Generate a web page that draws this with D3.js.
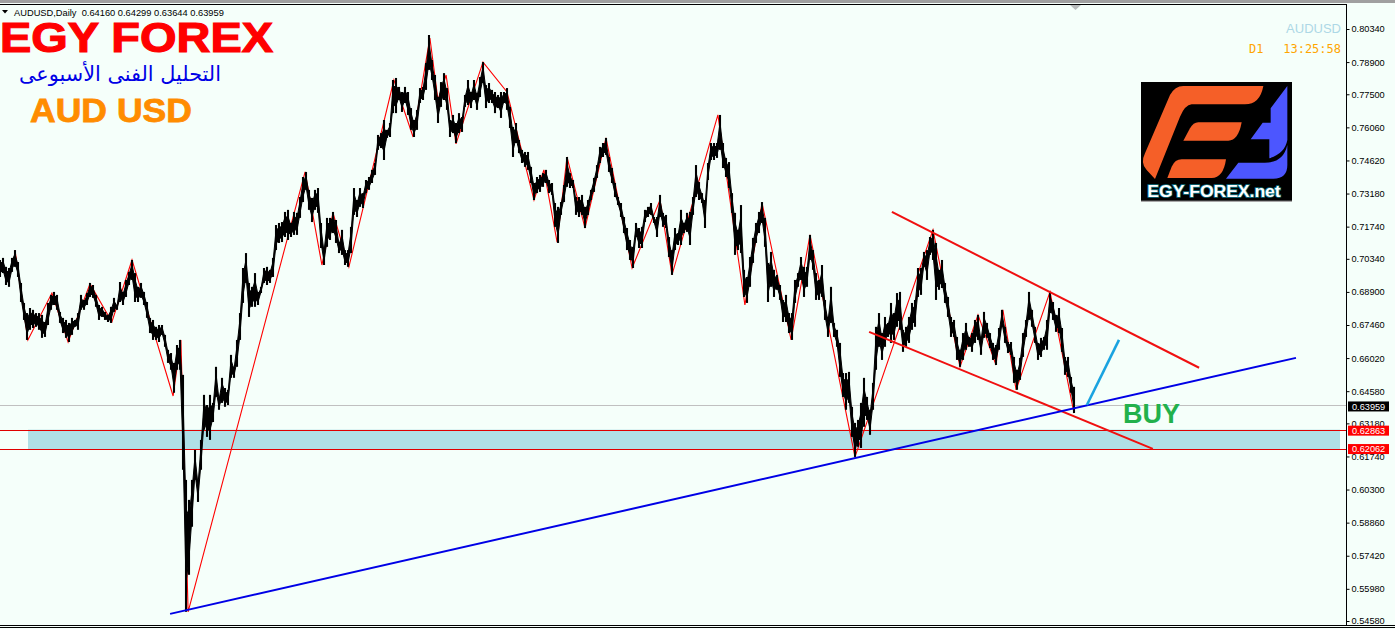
<!DOCTYPE html>
<html><head><meta charset="utf-8">
<script src="https://cdn.jsdelivr.net/npm/d3@7"></script>
<style>html,body{margin:0;padding:0;background:#f5fffa;overflow:hidden}svg{display:block}</style>
</head><body><svg id="c" width="1395" height="629"></svg>
<script>
const symbolLine = "AUDUSD,Daily  0.64160 0.64299 0.63644 0.63959";
const priceTicks = [0.8034,0.789,0.775,0.7606,0.7462,0.7318,0.7174,0.7034,0.689,0.6746,0.6602,0.6458,0.6318,0.6174,0.603,0.5886,0.5742,0.5598,0.5458];
const highs1=[.7029,.7038,.6999,.6994,.7038,.7072,.7020,.6929,.6842,.6798,.6820,.6812,.6798,.6798,.6790,.6759,.6842,.6877,.6890,.6877];
const lows1=[.6955,.6972,.6920,.6912,.6977,.6999,.6955,.6846,.6768,.6681,.6725,.6733,.6738,.6725,.6690,.6694,.6746,.6812,.6833,.6812];
const highs2=[.6803,.6777,.6768,.6755,.6777,.6768,.6798,.6877,.6855,.6885,.6929,.6920,.6877,.6833,.6825,.6803,.6790,.6825,.6864,.6833];
const lows2=[.6755,.6711,.6690,.6672,.6703,.6738,.6725,.6812,.6812,.6833,.6868,.6864,.6825,.6768,.6781,.6768,.6759,.6755,.6803,.6812];
const highs3=[.6933,.6890,.6942,.6977,.7029,.6972,.6912,.6929,.6890,.6846,.6777,.6768,.6738,.6746,.6746,.6703,.6638,.6624,.6581,.6659];
const lows3=[.6846,.6833,.6868,.6920,.6942,.6846,.6846,.6864,.6833,.6777,.6711,.6681,.6681,.6672,.6703,.6651,.6581,.6551,.6451,.6551];
const highs4=[.6681,.6529,.6072,.5985,.6072,.6202,.6072,.6246,.6442,.6398,.6442,.6407,.6564,.6433,.6516,.6472,.6464,.6616,.6564,.6681];
const lows4=[.6551,.6116,.5498,.5659,.5868,.6072,.5976,.6116,.6290,.6259,.6246,.6324,.6433,.6377,.6407,.6390,.6398,.6516,.6516,.6564];
const highs5=[.6798,.6994,.7059,.6929,.6912,.6972,.6890,.6912,.6994,.6999,.6986,.7038,.7181,.7190,.7194,.7238,.7247,.7190,.7238,.7234];
const lows5=[.6681,.6842,.6929,.6781,.6825,.6825,.6833,.6885,.6929,.6920,.6929,.6955,.7072,.7103,.7107,.7129,.7116,.7129,.7138,.7138];
const highs6=[.7303,.7390,.7412,.7334,.7299,.7334,.7342,.7190,.7081,.7212,.7212,.7238,.7203,.7107,.7160,.7072,.7072,.7173,.7342,.7290];
const lows6=[.7212,.7281,.7334,.7247,.7194,.7247,.7234,.7081,.7007,.7086,.7116,.7146,.7103,.7059,.7051,.7007,.6999,.7059,.7225,.7216];
const highs7=[.7342,.7320,.7377,.7390,.7421,.7451,.7573,.7581,.7638,.7595,.7625,.7812,.7821,.7782,.7760,.7782,.7760,.7690,.7638,.7682];
const lows7=[.7260,.7255,.7320,.7334,.7364,.7399,.7508,.7516,.7464,.7560,.7564,.7668,.7668,.7725,.7673,.7712,.7660,.7595,.7564,.7595];
const highs8=[.7777,.7782,.7886,.8008,.7899,.7834,.7738,.7803,.7842,.7777,.7638,.7660,.7625,.7668,.7651,.7747,.7812,.7760,.7812,.7756];
const lows8=[.7712,.7725,.7769,.7856,.7812,.7725,.7625,.7695,.7725,.7682,.7564,.7581,.7538,.7581,.7586,.7695,.7703,.7690,.7725,.7682];
const highs9=[.7825,.7890,.7790,.7799,.7769,.7760,.7747,.7760,.7760,.7777,.7695,.7608,.7625,.7551,.7508,.7499,.7499,.7434,.7364,.7390];
const lows9=[.7738,.7799,.7690,.7712,.7712,.7668,.7690,.7647,.7712,.7682,.7603,.7477,.7538,.7494,.7451,.7434,.7421,.7364,.7290,.7320];
const highs10=[.7399,.7407,.7421,.7377,.7364,.7277,.7260,.7281,.7355,.7477,.7407,.7377,.7303,.7303,.7312,.7260,.7290,.7334,.7386,.7442];
const lows10=[.7325,.7347,.7364,.7320,.7312,.7173,.7103,.7225,.7281,.7347,.7342,.7342,.7225,.7216,.7225,.7168,.7225,.7290,.7325,.7386];
const highs11=[.7521,.7538,.7560,.7477,.7429,.7364,.7303,.7277,.7216,.7168,.7116,.7086,.7190,.7168,.7173,.7247,.7260,.7277,.7216,.7216];
const lows11=[.7451,.7477,.7486,.7412,.7364,.7303,.7268,.7216,.7146,.7072,.7029,.6994,.7129,.7081,.7081,.7194,.7216,.7225,.7190,.7129];
const highs12=[.7312,.7234,.7225,.7129,.7072,.7168,.7146,.7247,.7190,.7234,.7238,.7303,.7442,.7368,.7320,.7290,.7451,.7538,.7538,.7538];
const lows12=[.7216,.7173,.7168,.7042,.6964,.7072,.7094,.7094,.7146,.7151,.7094,.7225,.7303,.7290,.7277,.7168,.7377,.7464,.7464,.7473];
const highs13=[.7660,.7538,.7473,.7455,.7320,.7234,.7160,.7268,.6986,.6955,.7042,.7125,.7190,.7238,.7281,.7212,.7016,.7064,.6986,.6964];
const lows13=[.7508,.7429,.7390,.7342,.7234,.7051,.7072,.7059,.6868,.6842,.6912,.7016,.7103,.7146,.7190,.7086,.6846,.6912,.6868,.6899];
const highs14=[.6920,.6855,.6877,.6798,.6798,.6942,.6972,.7042,.6999,.6999,.7138,.7072,.6972,.6942,.7007,.6855,.6781,.6912,.6755,.6725];
const lows14=[.6855,.6759,.6759,.6711,.6681,.6842,.6912,.6942,.6868,.6912,.7029,.6986,.6855,.6855,.6868,.6768,.6694,.6755,.6694,.6651];
const highs15=[.6668,.6537,.6537,.6542,.6390,.6320,.6333,.6407,.6516,.6433,.6377,.6494,.6738,.6798,.6711,.6781,.6755,.6842,.6798,.6885];
const lows15=[.6520,.6433,.6377,.6407,.6259,.6172,.6216,.6211,.6303,.6333,.6268,.6377,.6551,.6651,.6594,.6651,.6694,.6668,.6681,.6738];
const highs16=[.6890,.6725,.6738,.6781,.6842,.6855,.6994,.6994,.7064,.7072,.7129,.7160,.7103,.6986,.7029,.6929,.6868,.6781,.6768,.6694];
const lows16=[.6725,.6629,.6651,.6668,.6725,.6738,.6868,.6877,.6999,.6942,.7051,.7029,.6855,.6899,.6907,.6842,.6781,.6694,.6694,.6594];
const highs17=[.6638,.6711,.6755,.6694,.6711,.6768,.6790,.6694,.6803,.6755,.6711,.6668,.6659,.6733,.6812,.6738,.6672,.6672,.6607,.6551];
const lows17=[.6564,.6594,.6638,.6651,.6629,.6668,.6681,.6616,.6690,.6690,.6646,.6594,.6572,.6638,.6738,.6668,.6624,.6616,.6494,.6464];
const highs18=[.6603,.6711,.6768,.6890,.6812,.6738,.6668,.6690,.6694,.6768,.6890,.6846,.6790,.6820,.6733,.6607,.6607,.6520,.6477];
const lows18=[.6507,.6607,.6694,.6768,.6738,.6668,.6594,.6607,.6638,.6638,.6798,.6768,.6716,.6711,.6629,.6529,.6520,.6451,.6363];
const zigBars=[5,9.3,17.3,22.7,30,37.3,44,57.7,60.3,62.7,101.7,107.3,111,116.3,131.3,137.7,143.3,146,148.7,152,161,169,178,181.3,185.7,189,195,202,210.7,220,224,239.3,248.3,254,263.7,270,285,311,320,326,332,334.3,338.7,350,358];
const zigPrices=[.7072,.6681,.6885,.6672,.6925,.6759,.7029,.6437,.6681,.5498,.7412,.7007,.7234,.6999,.7812,.7564,.7995,.7725,.7834,.7534,.7890,.7760,.7290,.7421,.7107,.7477,.7168,.7560,.6994,.7290,.6964,.7660,.6833,.7277,.6681,.7138,.6172,.7160,.6564,.6790,.6572,.6812,.6464,.6890,.6363];
const channelUpper=[[297.3,.7238],[399.7,.6560]];
const channelLower=[[289.7,.6716],[384.3,.6207]];
const blueTrend=[[56.7,.5489],[432,.6603]];
const arrowLine=[[362.3,.6398],[373,.6681]];
const zoneTop=0.62863, zoneBottom=0.62062, lastPrice=0.63959;

const highs=[].concat(highs1,highs2,highs3,highs4,highs5,highs6,highs7,highs8,highs9,highs10,highs11,highs12,highs13,highs14,highs15,highs16,highs17,highs18);
const lows=[].concat(lows1,lows2,lows3,lows4,lows5,lows6,lows7,lows8,lows9,lows10,lows11,lows12,lows13,lows14,lows15,lows16,lows17,lows18);

const svg=d3.select("#c");
const X=d3.scaleLinear().domain([0,358]).range([0,1074]);
const Y=d3.scaleLinear().domain([0.8034,0.5458]).range([29,621]);
const AX=1346.5;
const sans="'Liberation Sans',Arial,sans-serif";

// frame
svg.append("rect").attr("width",1395).attr("height",629).attr("fill","#f5fffa");
svg.append("rect").attr("width",1395).attr("height",3).attr("fill","#a0a0a0");
svg.append("line").attr("x1",0).attr("x2",AX).attr("y1",4.5).attr("y2",4.5).attr("stroke","#000");
svg.append("line").attr("x1",0).attr("x2",1395).attr("y1",625.5).attr("y2",625.5).attr("stroke","#000");
svg.append("line").attr("x1",0).attr("x2",1395).attr("y1",627.5).attr("y2",627.5).attr("stroke","#000");
svg.append("path").attr("d","M1070,5h11l-5.5,5z").attr("fill","#b8bcbc");

// zone + level lines
svg.append("rect").attr("x",28).attr("width",1312).attr("y",Y(zoneTop)-1).attr("height",Y(zoneBottom)-Y(zoneTop)+1).attr("fill","#b0e0e6");
svg.append("line").attr("x1",0).attr("x2",AX).attr("y1",Math.round(Y(lastPrice))+.5).attr("y2",Math.round(Y(lastPrice))+.5).attr("stroke","#c0c0c0");
[zoneTop,zoneBottom].forEach(p=>svg.append("line").attr("x1",0).attr("x2",AX).attr("y1",Math.floor(Y(p))+.5).attr("y2",Math.floor(Y(p))+.5).attr("stroke","#e00000"));

// zigzag under bars
const line=d3.line().x(d=>X(d[0])).y(d=>Y(d[1]));
svg.append("path").attr("d",line(zigBars.map((b,i)=>[b,zigPrices[i]]))).attr("fill","none").attr("stroke","#ff0000").attr("stroke-width",1.1);

// solid core of the price band, then the individual bars with their wicks
const core=d3.area().x((d,i)=>X(i))
 .y0((d,i)=>Y(d-(d-lows[i])*0.22))
 .y1((d,i)=>Y(lows[i]+(d-lows[i])*0.22));
svg.append("path").attr("d",core(highs)).attr("fill","#000").attr("stroke","#000").attr("stroke-width",1);
svg.append("g").selectAll("line").data(highs).join("line")
 .attr("x1",(d,i)=>X(i)).attr("x2",(d,i)=>X(i))
 .attr("y1",d=>Y(d)).attr("y2",(d,i)=>Y(lows[i]))
 .attr("stroke","#000").attr("stroke-width",2.1);

// drawn lines
[[channelUpper,"#f01010",2],[channelLower,"#f01010",2],[blueTrend,"#0000e6",2],[arrowLine,"#1aa3e0",2.6]].forEach(([d,c,w])=>
 svg.append("path").attr("d",line(d)).attr("fill","none").attr("stroke",c).attr("stroke-width",w));

// axis
svg.append("line").attr("x1",AX).attr("x2",AX).attr("y1",4).attr("y2",626).attr("stroke","#000");
const axis=d3.axisRight(Y).tickValues(priceTicks).tickFormat(d3.format(".5f")).tickSize(3).tickPadding(2);
const ag=svg.append("g").attr("transform",`translate(${AX},0)`).call(axis);
ag.select(".domain").remove();
ag.selectAll("text").attr("font-family",sans).attr("font-size",9.2).attr("fill","#000");

// price labels
[[lastPrice,"#000"],[zoneTop,"#ff0000"],[zoneBottom,"#ff0000"]].forEach(([p,c])=>{
 const y=Y(p)+(p===lastPrice?1:0);
 svg.append("rect").attr("x",1348).attr("y",y-5).attr("width",41).attr("height",10).attr("fill",c);
 svg.append("text").attr("x",1352).attr("y",y+3.3).attr("font-family",sans).attr("font-size",9.2).attr("fill","#fff").text(d3.format(".5f")(p));
});

// header
svg.append("path").attr("d","M2,10h6l-3,3.5z").attr("fill","#000");
svg.append("text").attr("x",14).attr("y",16).attr("font-family",sans).attr("font-size",9.3).attr("fill","#000").attr("xml:space","preserve").style("white-space","pre").text(symbolLine);

// titles
svg.append("text").attr("x",0).attr("y",52).attr("font-family",sans).attr("font-weight","bold").attr("font-size",43).attr("fill","#ff0000").attr("stroke","#ff0000").attr("stroke-width",1.2).attr("textLength",273).attr("lengthAdjust","spacingAndGlyphs").text("EGY FOREX");
svg.append("text").attr("x",221).attr("y",81).attr("text-anchor","start").attr("direction","rtl").attr("font-family","'DejaVu Sans'").attr("font-size",20.8).attr("fill","#0000e6").text("التحليل الفنى الأسبوعى");
svg.append("text").attr("x",30).attr("y",122).attr("font-family",sans).attr("font-weight","bold").attr("font-size",33).attr("fill","#ff8c00").attr("stroke","#ff8c00").attr("stroke-width",.8).attr("textLength",162).attr("lengthAdjust","spacingAndGlyphs").text("AUD USD");
svg.append("text").attr("x",1341).attr("y",33).attr("text-anchor","end").attr("font-family",sans).attr("font-size",13).attr("fill","#add8e6").text("AUDUSD");
svg.append("text").attr("x",1249).attr("y",53).attr("font-family","'DejaVu Sans Mono'").attr("font-size",12).attr("fill","#ffa500").text("D1");
svg.append("text").attr("x",1341).attr("y",53).attr("text-anchor","end").attr("font-family","'DejaVu Sans Mono'").attr("font-size",12).attr("fill","#ffa500").text("13:25:58");
svg.append("text").attr("x",1123).attr("y",423).attr("font-family",sans).attr("font-weight","bold").attr("font-size",27).attr("fill","#22b14c").text("BUY");

// logo
const logo=svg.append("g").attr("transform","translate(1130,0) scale(0.33333)");
logo.append("rect").attr("x",33).attr("y",246).attr("width",453).attr("height",357).attr("fill","#000");
logo.append("rect").attr("x",33).attr("y",602).attr("width",453).attr("height",4).attr("fill","#a8a8a8");
[
 "M400,258L160,258Q135,258 120,285L45,460Q30,490 50,510L75,537L150,350Q165,315 185,313L345,313Q390,313 400,258Z",
 "M335,367L205,367Q190,367 180,385L160,422L295,422Q325,422 335,367Z",
 "M288,478L155,478Q135,478 125,500L112,534L245,534Q280,534 288,478Z"
].forEach(d=>logo.append("path").attr("d",d).attr("fill","#f55f28"));
[
 "M472,258L422,325L422,368L398,368L362,418L418,418L418,475Q465,460 472,420Z",
 "M472,435L472,495Q472,536 430,536L288,536L325,488L405,488Q460,488 472,435Z"
].forEach(d=>logo.append("path").attr("d",d).attr("fill","#4c56ff"));
logo.append("text").attr("x",52).attr("y",592).attr("font-family",sans).attr("font-weight","bold").attr("font-size",51).attr("fill","#fff")
 .attr("stroke","#0f6f7f").attr("stroke-width",5).attr("paint-order","stroke").attr("textLength",400).attr("lengthAdjust","spacingAndGlyphs").text("EGY-FOREX.net");
</script></body></html>
